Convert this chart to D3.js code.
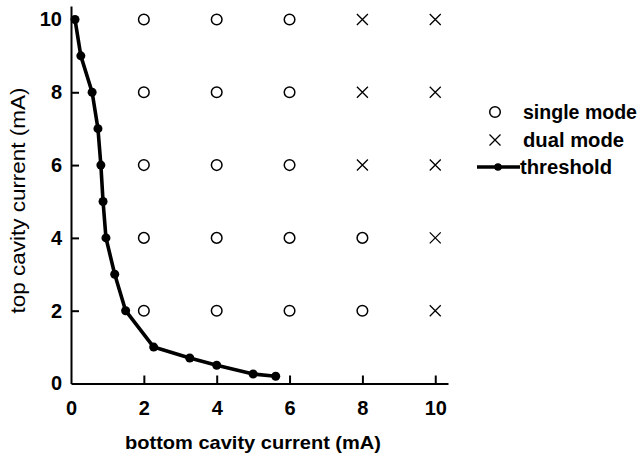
<!DOCTYPE html>
<html>
<head>
<meta charset="utf-8">
<script src="https://cdn.jsdelivr.net/npm/d3@7"></script>
<style>
  body { margin: 0; background: #fff; }
  svg { display: block; font-family: "Liberation Sans", Arial, sans-serif; }
</style>
</head>
<body>
<div id="chart"></div>
<script>
// threshold curve
var threshX = [0.11, 0.27, 0.58, 0.74, 0.82, 0.88, 0.96, 1.2, 1.5, 2.27, 3.26, 4.0, 5.0, 5.62];
var threshY = [10, 9, 8, 7, 6, 5, 4, 3, 2, 1.0, 0.7, 0.5, 0.26, 0.2];

// measured grid: bottom current, top current, mode
var gridX = [2, 4, 6, 8, 10];
var gridY = [10, 8, 6, 4, 2];
var modes = [
  ["single", "single", "single", "dual", "dual"],     // top = 10
  ["single", "single", "single", "dual", "dual"],     // 8
  ["single", "single", "single", "dual", "dual"],     // 6
  ["single", "single", "single", "single", "dual"],   // 4
  ["single", "single", "single", "single", "dual"]    // 2
];
var xTicks = [0, 2, 4, 6, 8, 10];
var yTicks = [0, 2, 4, 6, 8, 10];
var legText = ["single mode", "dual mode", "threshold"];

var W = 641, H = 457;
var svg = d3.select("#chart").append("svg")
  .attr("width", W).attr("height", H);

var x = d3.scaleLinear().domain([0, 10.35]).range([71, 448]);
var y = d3.scaleLinear().domain([0, 10.37]).range([383.5, 6]);

// axes
var xAxis = svg.append("g")
  .attr("transform", "translate(0," + y(0) + ")")
  .call(d3.axisBottom(x).tickValues(xTicks).tickSizeInner(-8).tickSizeOuter(0).tickPadding(17));
var yAxis = svg.append("g")
  .attr("transform", "translate(" + x(0) + ",0)")
  .call(d3.axisLeft(y).tickValues(yTicks).tickSizeInner(-8).tickSizeOuter(0).tickPadding(9));

[xAxis, yAxis].forEach(function(ax) {
  ax.select(".domain").attr("stroke", "#000").attr("stroke-width", 2);
  ax.selectAll(".tick line").attr("stroke", "#000").attr("stroke-width", 2);
  ax.selectAll(".tick text")
    .attr("fill", "#000")
    .style("font-size", "20px")
    .style("font-weight", "bold")
    .style("font-family", "'Liberation Sans', Arial, sans-serif");
});
// no inner tick at the origin
xAxis.selectAll(".tick line").filter(function(d) { return d === 0; }).remove();
yAxis.selectAll(".tick line").filter(function(d) { return d === 0; }).remove();

// axis titles
svg.append("text")
  .attr("x", 253).attr("y", 449)
  .attr("text-anchor", "middle")
  .attr("textLength", 256).attr("lengthAdjust", "spacingAndGlyphs")
  .style("font-size", "19px")
  .style("font-weight", "bold")
  .text("bottom cavity current (mA)");
svg.append("text")
  .attr("transform", "translate(25,200.5) rotate(-90)")
  .attr("text-anchor", "middle")
  .attr("textLength", 226).attr("lengthAdjust", "spacingAndGlyphs")
  .style("font-size", "20px")
  .text("top cavity current (mA)");

// grid markers
var points = [];
gridY.forEach(function(gy, i) {
  gridX.forEach(function(gx, j) {
    points.push({x: gx, y: gy, mode: modes[i][j]});
  });
});

function cross(g, cx, cy, s) {
  g.append("path")
    .attr("d", "M" + (cx - s) + "," + (cy - s) + "L" + (cx + s) + "," + (cy + s) +
               "M" + (cx - s) + "," + (cy + s) + "L" + (cx + s) + "," + (cy - s))
    .attr("stroke", "#000").attr("stroke-width", 1.3).attr("fill", "none");
}

var marks = svg.append("g");
points.forEach(function(p) {
  if (p.mode === "single") {
    marks.append("circle")
      .attr("cx", x(p.x)).attr("cy", y(p.y)).attr("r", 5.3)
      .attr("fill", "none").attr("stroke", "#000").attr("stroke-width", 1.5);
  } else {
    cross(marks, x(p.x), y(p.y), 5.5);
  }
});

// threshold line
var thresh = threshX.map(function(v, i) { return [v, threshY[i]]; });
svg.append("path")
  .datum(thresh)
  .attr("fill", "none")
  .attr("stroke", "#000")
  .attr("stroke-width", 3.6)
  .attr("stroke-linejoin", "round")
  .attr("d", d3.line().x(function(d) { return x(d[0]); }).y(function(d) { return y(d[1]); }));
svg.append("g").selectAll("circle")
  .data(thresh).enter().append("circle")
  .attr("cx", function(d) { return x(d[0]); })
  .attr("cy", function(d) { return y(d[1]); })
  .attr("r", 4.5)
  .attr("fill", "#000");

// legend
var leg = svg.append("g").style("font-size", "20px").style("font-weight", "bold");
leg.append("circle").attr("cx", 495).attr("cy", 112).attr("r", 5.3)
  .attr("fill", "none").attr("stroke", "#000").attr("stroke-width", 1.5);
cross(leg, 495, 140, 5.5);
leg.append("line").attr("x1", 477).attr("x2", 520).attr("y1", 167).attr("y2", 167)
  .attr("stroke", "#000").attr("stroke-width", 3.6);
leg.append("circle").attr("cx", 498).attr("cy", 167).attr("r", 3.8).attr("fill", "#000");
var legWidths = [114, 101, 92];
leg.selectAll("text.lab").data(legText).enter().append("text")
  .attr("class", "lab")
  .attr("x", function(d, i) { return i === 2 ? 520 : 523; })
  .attr("y", function(d, i) { return 112 + i * 27.5; })
  .attr("dy", "0.35em")
  .attr("textLength", function(d, i) { return legWidths[i]; })
  .attr("lengthAdjust", "spacingAndGlyphs")
  .text(function(d) { return d; });
</script>
</body>
</html>
